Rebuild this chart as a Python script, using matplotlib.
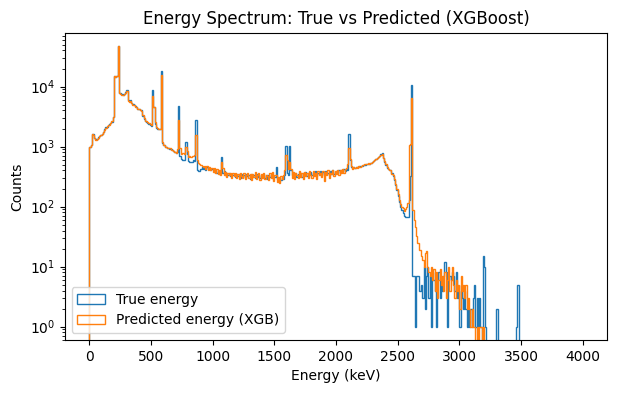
import numpy as np
import matplotlib
matplotlib.use("Agg")
import matplotlib.pyplot as plt

# 10 keV bins from 0 to 4000 keV
bin_width_kev = 10
energy_max_kev = 4000

true_counts = [
    1000, 1050, 1650, 1600, 1400, 1320, 1350, 1420, 1480, 1560, 1650, 1750, 1950, 2100, 2150, 2250, 2350, 2450, 2600, 3150,
    15000, 14700, 14800, 47000, 7800, 7700, 7500, 7300, 7400, 8000, 8800, 6000, 5700, 6000, 5300, 5100, 4900, 4700, 4500, 4300,
    4200, 4100, 4000, 3200, 2900, 2650, 2550, 2450, 2350, 2250, 2200, 8700, 4500, 2400, 2050, 2000, 1950, 1950, 18500, 1150,
    1050, 1000, 980, 960, 940, 920, 900, 880, 850, 800, 780, 800, 4700, 700, 620, 600, 590, 600, 1200, 750,
    580, 560, 550, 560, 600, 580, 2750, 400, 385, 390, 420, 460, 430, 450, 410, 455, 420, 440, 400, 430,
    430, 380, 410, 360, 395, 350, 385, 680, 360, 390, 340, 370, 330, 365, 320, 355, 330, 345, 310, 350,
    320, 345, 300, 350, 315, 340, 295, 355, 320, 330, 290, 345, 310, 340, 300, 350, 315, 335, 295, 340,
    310, 345, 300, 335, 290, 330, 315, 350, 300, 325, 310, 465, 290, 270, 300, 275, 310, 290, 330, 1025,
    360, 330, 1025, 410, 330, 360, 320, 365, 310, 355, 330, 370, 315, 360, 335, 375, 320, 365, 340, 380,
    330, 370, 345, 385, 325, 365, 350, 390, 335, 375, 340, 395, 350, 370, 340, 385, 355, 400, 345, 380,
    395, 360, 405, 370, 410, 380, 420, 390, 425, 410, 1620, 600, 450, 440, 450, 445, 455, 450, 460, 470,
    470, 480, 490, 500, 510, 515, 520, 520, 530, 550, 570, 590, 610, 640, 670, 700, 740, 775, 640, 560,
    500, 440, 420, 410, 400, 360, 320, 280, 230, 190, 150, 120, 100, 88, 78, 70, 67, 66, 68, 130,
    320, 10700, 7, 7, 1, 7, 7, 4, 4, 5, 3, 10, 2, 7, 10, 3, 7, 1, 8, 6,
    4, 1, 6, 8, 3, 6, 4, 7, 12, 8, 1, 6, 7, 6, 8, 7, 4, 8, 3, 4,
    1, 5, 3, 2, 4, 2, 1, 2, 1, 2, 1, 3, 5, 1, 3, 1, 3, 1, 0, 15,
    10, 1, 0, 0, 0, 0, 0, 0, 0, 0, 2, 0, 0, 0, 0, 0, 0, 0, 0, 0,
    0, 0, 0, 0, 0, 0, 1, 5, 0, 0, 0, 0, 0, 0, 0, 0, 0, 0, 0, 0,
    0, 0, 0, 0, 0, 0, 0, 0, 0, 0, 0, 0, 0, 0, 0, 0, 0, 0, 0, 0,
    0, 0, 0, 0, 0, 0, 0, 0, 0, 0, 0, 0, 0, 0, 0, 0, 0, 0, 0, 0,
]

pred_counts = [
    980, 1080, 1620, 1580, 1380, 1300, 1330, 1400, 1500, 1550, 1620, 1780, 1900, 2080, 2200, 2250, 2300, 2500, 2650, 3100,
    15200, 14600, 14900, 48000, 7700, 7600, 7300, 7200, 7500, 7900, 8300, 5800, 5600, 5800, 5300, 5000, 4900, 4600, 4500, 4300,
    4200, 4050, 3950, 3300, 2950, 2700, 2650, 2550, 2450, 2350, 2300, 7000, 4600, 2600, 2100, 2050, 2000, 2000, 15500, 1200,
    1050, 1000, 990, 950, 930, 930, 890, 870, 860, 800, 790, 900, 2800, 950, 760, 780, 770, 760, 1000, 850,
    680, 700, 660, 690, 700, 720, 1550, 600, 540, 520, 500, 470, 450, 480, 420, 470, 410, 450, 400, 440,
    380, 440, 360, 420, 350, 400, 330, 560, 440, 340, 380, 310, 370, 330, 360, 300, 365, 320, 370, 305,
    350, 290, 360, 320, 300, 365, 285, 340, 370, 300, 355, 280, 345, 310, 375, 290, 335, 365, 280, 350,
    300, 370, 290, 340, 320, 280, 360, 300, 375, 270, 330, 340, 260, 310, 245, 320, 290, 340, 400, 725,
    600, 420, 560, 420, 300, 380, 290, 370, 330, 300, 385, 310, 365, 290, 380, 320, 360, 300, 385, 330,
    300, 390, 320, 370, 290, 385, 340, 360, 310, 395, 270, 380, 330, 400, 300, 370, 350, 410, 320, 390,
    350, 415, 340, 400, 370, 420, 360, 430, 440, 520, 940, 620, 470, 430, 455, 440, 460, 445, 470, 465,
    480, 490, 495, 505, 510, 520, 525, 520, 535, 555, 565, 595, 615, 635, 675, 705, 735, 760, 650, 570,
    510, 450, 430, 400, 410, 350, 330, 290, 240, 200, 160, 130, 110, 100, 95, 85, 90, 100, 115, 1070,
    1100, 6400, 88, 60, 45, 32, 25, 19, 19, 15, 13, 10, 17, 18, 10, 8, 7, 10, 6, 9,
    4, 8, 3, 6, 9, 5, 7, 4, 8, 3, 6, 10, 4, 6, 10, 5, 3, 6, 4, 5,
    2, 7, 4, 5, 3, 5, 2, 3, 2, 1, 2, 1, 1, 0, 1, 0, 1, 1, 0, 1,
    0, 0, 0, 0, 0, 0, 0, 0, 0, 0, 0, 0, 0, 0, 0, 0, 0, 0, 0, 0,
    0, 0, 0, 0, 0, 0, 0, 0, 0, 0, 0, 0, 0, 0, 0, 0, 0, 0, 0, 0,
    0, 0, 0, 0, 0, 0, 0, 0, 0, 0, 0, 0, 0, 0, 0, 0, 0, 0, 0, 0,
    0, 0, 0, 0, 0, 0, 0, 0, 0, 0, 0, 0, 0, 0, 0, 0, 0, 0, 0, 0,
]

series_labels = ["True energy", "Predicted energy (XGB)"]

edges = np.arange(0, energy_max_kev + bin_width_kev, bin_width_kev)
centers = 0.5 * (edges[:-1] + edges[1:])

fig = plt.figure(figsize=(6.17, 3.93), dpi=100)
ax = fig.add_axes([0.1047, 0.1349, 0.8796, 0.7819])

ax.hist(centers, bins=edges, weights=true_counts, histtype="step",
        color="C0", label=series_labels[0], log=True)
ax.hist(centers, bins=edges, weights=pred_counts, histtype="step",
        color="C1", label=series_labels[1], log=True)

ax.set_xlim(-200, 4200)
ax.set_ylim(0.6, 7.9e4)
ax.set_xlabel("Energy (keV)")
ax.set_ylabel("Counts")
ax.set_title("Energy Spectrum: True vs Predicted (XGBoost)")
ax.legend(loc="lower left")

fig.savefig("out.png", dpi=100)
